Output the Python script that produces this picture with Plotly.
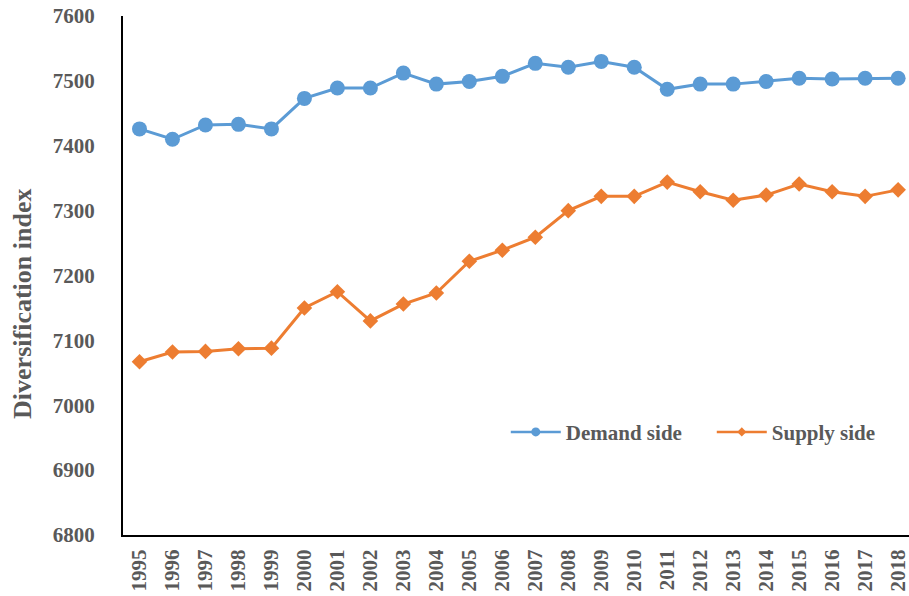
import plotly.graph_objects as go

years = [str(y) for y in range(1995, 2019)]
demand_side = [7426, 7410, 7432, 7433, 7426, 7473, 7489, 7489, 7512, 7495, 7499, 7507,
               7527, 7521, 7530, 7521, 7487, 7495, 7495, 7499, 7504, 7503, 7504, 7504]
supply_side = [7067, 7082, 7083, 7087, 7088, 7150, 7175, 7130, 7156, 7173, 7222, 7239,
               7259, 7300, 7322, 7322, 7344, 7329, 7316, 7324, 7341, 7329, 7322, 7332]
y_ticks = [6800, 6900, 7000, 7100, 7200, 7300, 7400, 7500, 7600]

BLUE = "#5B9BD5"
ORANGE = "#ED7D31"
GRAY = "#595959"
FONT = "Liberation Serif, Times New Roman, serif"

series = [
    ("Demand side", demand_side, BLUE, "circle", 15, 9),
    ("Supply side", supply_side, ORANGE, "diamond", 12, 7),
]

fig = go.Figure()
for name, values, color, symbol, size, legend_size in series:
    # the data line itself
    fig.add_trace(go.Scatter(
        x=years, y=values, name=name, mode="lines+markers",
        legendgroup=name, showlegend=False,
        line=dict(color=color, width=3),
        marker=dict(symbol=symbol, size=size, color=color),
    ))
    # legend entry with a smaller key symbol
    fig.add_trace(go.Scatter(
        x=[None], y=[None], name=name, mode="lines+markers",
        legendgroup=name, showlegend=True, hoverinfo="skip",
        line=dict(color=color, width=2.5),
        marker=dict(symbol=symbol, size=legend_size, color=color),
    ))

fig.update_layout(
    width=909, height=596,
    margin=dict(l=123, r=0, t=16, b=61, autoexpand=False),
    paper_bgcolor="white", plot_bgcolor="white",
    font=dict(family=FONT, color=GRAY, size=21),
    showlegend=True,
    legend=dict(
        orientation="h", x=0.487, y=0.198, xanchor="left", yanchor="middle",
        font=dict(family=FONT, size=21, color=GRAY, weight="bold"),
        bgcolor="rgba(0,0,0,0)", itemwidth=50, traceorder="normal",
        entrywidth=141,
    ),
    xaxis=dict(
        type="category", range=[-0.5, 23.33],
        showline=True, linecolor="black", linewidth=2, mirror=False,
        showgrid=False, zeroline=False, ticks="", tickangle=-90,
        tickfont=dict(family=FONT, size=21, color=GRAY, weight="bold"),
        ticklabelstandoff=4,
    ),
    yaxis=dict(
        range=[6800, 7600], tickvals=y_ticks, ticktext=[str(v) for v in y_ticks],
        showline=True, linecolor="black", linewidth=2,
        showgrid=False, zeroline=False, ticks="",
        tickfont=dict(family=FONT, size=21, color=GRAY, weight="bold"),
        ticklabelstandoff=22,
    ),
    annotations=[dict(
        text="Diversification index", textangle=-90,
        xref="paper", yref="paper", x=-0.128, y=0.446,
        xanchor="center", yanchor="middle", showarrow=False,
        font=dict(family=FONT, size=26, color=GRAY, weight="bold"),
    )],
)

fig.write_html("out.html")
